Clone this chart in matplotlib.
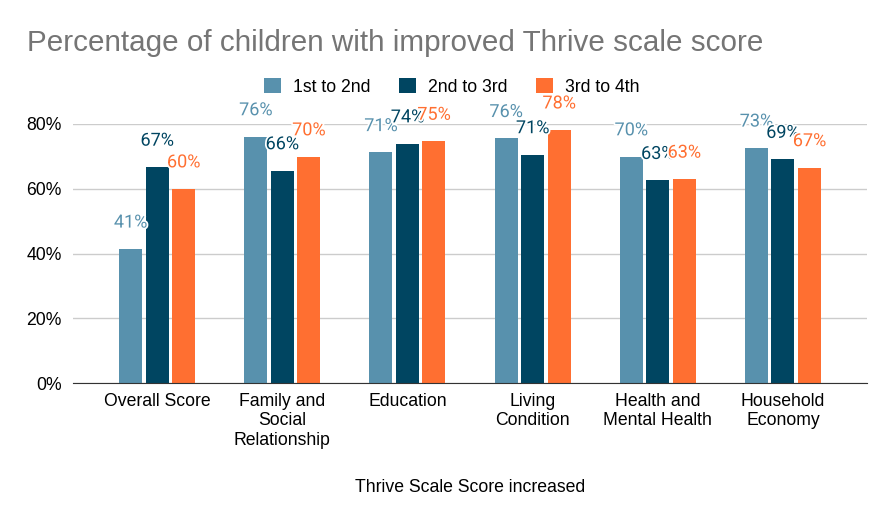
import matplotlib
matplotlib.use('Agg')
import matplotlib.pyplot as plt
import matplotlib.patheffects as pe
import numpy as np

# Data
categories = ['Overall Score', 'Family and\nSocial\nRelationship', 'Education',
              'Living\nCondition', 'Health and\nMental Health', 'Household\nEconomy']
series_names = ['1st to 2nd', '2nd to 3rd', '3rd to 4th']
first_to_second = [0.414, 0.761, 0.712, 0.7555, 0.699, 0.726]
second_to_third = [0.667, 0.656, 0.739, 0.7055, 0.626, 0.691]
third_to_fourth = [0.600, 0.699, 0.747, 0.782, 0.630, 0.6655]
y_ticks = [0.0, 0.2, 0.4, 0.6, 0.8]

colors = ['#5891AD', '#004561', '#FF6F31']

plt.rcParams['font.family'] = ['Liberation Sans', 'DejaVu Sans']

fig = plt.figure(figsize=(8.95, 5.22), dpi=100)
ax = fig.add_axes([73 / 895, 1 - 383 / 522, (867 - 73) / 895, (383 - 124) / 522])

x = np.arange(len(categories))
offset = 0.212
width = 0.184
all_series = [first_to_second, second_to_third, third_to_fourth]
for i, (vals, name, col) in enumerate(zip(all_series, series_names, colors)):
    pos = x + (i - 1) * offset
    ax.bar(pos, vals, width=width, color=col, label=name, zorder=3)
    for px_, v in zip(pos, vals):
        ax.annotate(f'{int(v * 100 + 0.5)}%', (px_, v), xytext=(0, 19),
                    textcoords='offset points', ha='center', va='center',
                    fontsize=13, color=col, family=['Roboto', 'DejaVu Sans'],
                    annotation_clip=False, zorder=5,
                    path_effects=[pe.withStroke(linewidth=2.5, foreground='white')])

ax.set_xlim(-0.672, 5.672)
ax.set_ylim(0, 0.8)
ax.set_yticks(y_ticks)
ax.set_yticklabels([f'{int(t * 100)}%' for t in y_ticks], fontsize=12.7)
ax.set_xticks(x)
ax.set_xticklabels(categories, fontsize=12.7, linespacing=1.2)
ax.tick_params(axis='both', length=0)
ax.tick_params(axis='x', pad=7)
ax.tick_params(axis='y', pad=8)
ax.grid(axis='y', color='#cccccc', linewidth=1, zorder=0)
for s in ['top', 'right', 'left']:
    ax.spines[s].set_visible(False)
ax.spines['bottom'].set_color('#333333')
ax.spines['bottom'].set_zorder(4)

fig.text(470 / 895, 1 - 487 / 522, 'Thrive Scale Score increased', ha='center',
         va='center', fontsize=12.7)
fig.text(27 / 895, 1 - 43 / 522, 'Percentage of children with improved Thrive scale score',
         ha='left', va='center', fontsize=21.3, color='#757575')

fig.legend(loc='center', bbox_to_anchor=(452 / 895, 1 - 87 / 522), ncol=3, frameon=False,
           fontsize=12.7, handlelength=0.95, handleheight=0.95, columnspacing=1.6,
           handletextpad=0.7)

fig.savefig('out.png', dpi=100)
